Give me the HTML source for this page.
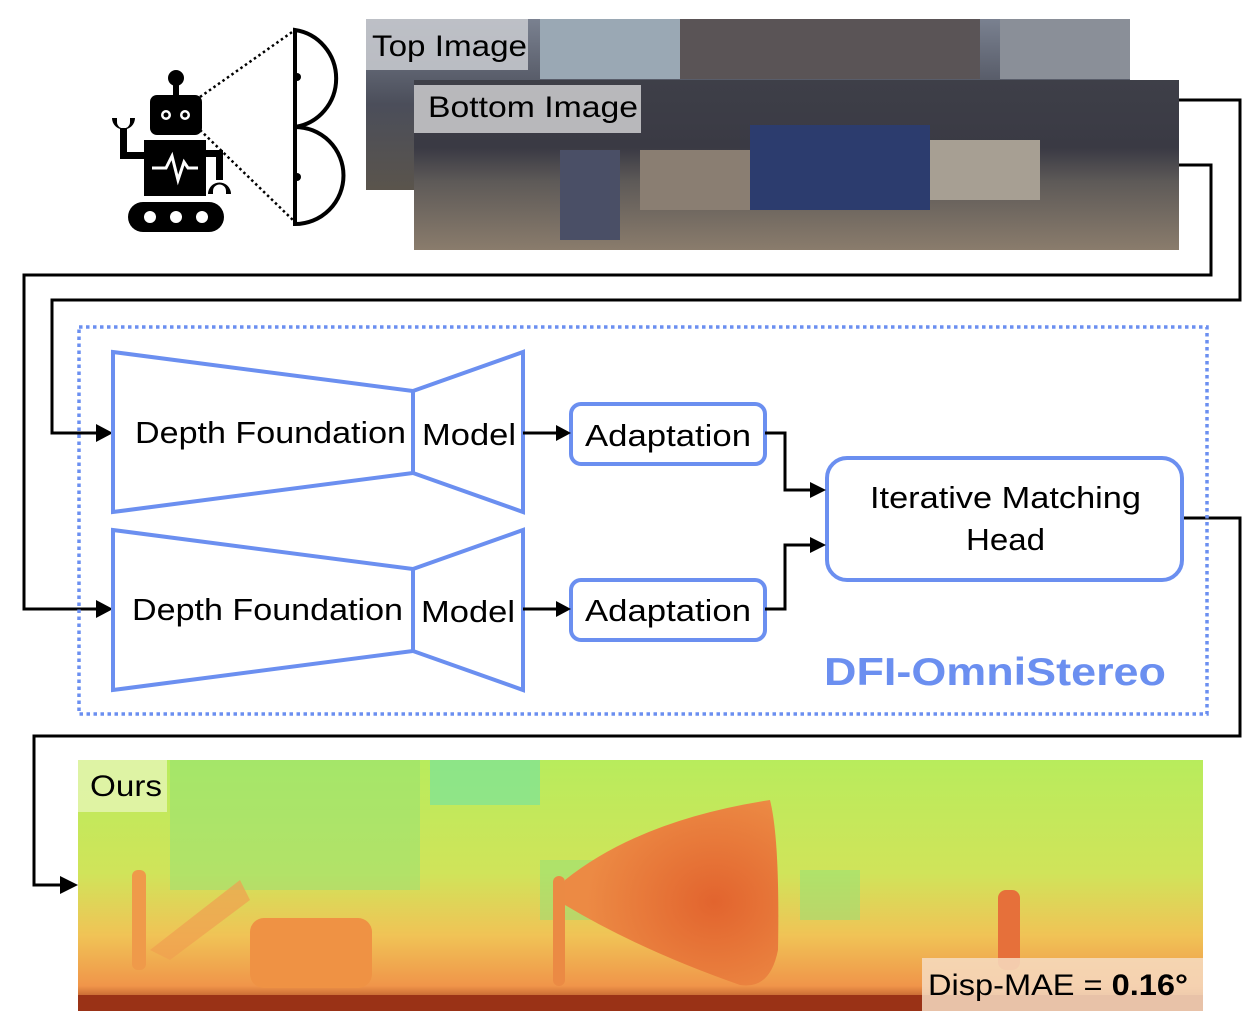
<!DOCTYPE html>
<html><head><meta charset="utf-8"><style>
body{margin:0;background:#fff;}
svg{display:block;font-family:"Liberation Sans",sans-serif;}
</style></head><body>
<svg width="1256" height="1022" viewBox="0 0 1256 1022" xmlns="http://www.w3.org/2000/svg">
<defs>
<linearGradient id="topimg" x1="0" y1="0" x2="0" y2="1"><stop offset="0" stop-color="#7a8190"/><stop offset="0.5" stop-color="#4b4e5a"/><stop offset="1" stop-color="#5a544c"/></linearGradient>
<linearGradient id="botimg" x1="0" y1="0" x2="0" y2="1"><stop offset="0" stop-color="#3e3f48"/><stop offset="0.4" stop-color="#3a3a44"/><stop offset="0.6" stop-color="#5e5a58"/><stop offset="1" stop-color="#8a7c6c"/></linearGradient>
<linearGradient id="dep" x1="0" y1="0" x2="0" y2="1"><stop offset="0" stop-color="#b8ec5c"/><stop offset="0.45" stop-color="#d0e45a"/><stop offset="0.7" stop-color="#f0c356"/><stop offset="0.9" stop-color="#f0954a"/><stop offset="1" stop-color="#8e2a12"/></linearGradient>
<radialGradient id="cone" cx="0.7" cy="0.55" r="0.6"><stop offset="0" stop-color="#e2642e"/><stop offset="1" stop-color="#ec8a44"/></radialGradient>
</defs>

<!-- robot -->
<g fill="#000">
<circle cx="176" cy="78" r="8"/><rect x="173" y="80" width="6" height="16"/>
<rect x="150" y="95" width="52" height="40" rx="7"/>
<circle cx="166" cy="115" r="5" fill="#fff"/><circle cx="185" cy="115" r="5" fill="#fff"/>
<circle cx="166" cy="115" r="2.5"/><circle cx="185" cy="115" r="2.5"/>
<rect x="144" y="140" width="62" height="56"/>
<path d="M152 168 L166 168 L172 156 L178 180 L184 162 L188 168 L198 168" stroke="#fff" stroke-width="3" fill="none"/>
<rect x="120" y="128" width="7" height="30"/><rect x="120" y="152" width="26" height="7"/>
<path d="M112 118 a11 11 0 0 0 23 0 l-5 0 l0 4 a6 6 0 0 1 -13 0 l0 -4 z"/>
<rect x="206" y="150" width="16" height="7"/><rect x="216" y="150" width="7" height="30"/>
<path d="M208 194 a11.5 11.5 0 0 1 23 0 l-5 0 l0 -3 a6 6 0 0 0 -13 0 l0 3 z"/>
<rect x="128" y="202" width="96" height="30" rx="15"/>
<circle cx="150" cy="217" r="6" fill="#fff"/><circle cx="176" cy="217" r="6" fill="#fff"/><circle cx="202" cy="217" r="6" fill="#fff"/>
</g>
<line x1="200" y1="97" x2="295" y2="30" stroke="#000" stroke-width="2.5" stroke-dasharray="2.5 3"/>
<line x1="200" y1="130" x2="295" y2="222" stroke="#000" stroke-width="2.5" stroke-dasharray="2.5 3"/>
<path d="M295 30 A48 49 0 0 1 295 127 Z" fill="none" stroke="#000" stroke-width="4"/>
<path d="M295 127 A48 48 0 0 1 295 224 Z" fill="none" stroke="#000" stroke-width="4"/>
<circle cx="297" cy="77" r="4"/><circle cx="297" cy="177" r="4"/>

<!-- images -->
<rect x="366" y="19" width="764" height="171" fill="url(#topimg)"/>
<rect x="540" y="19" width="140" height="60" fill="#9aa8b4"/>
<rect x="680" y="19" width="300" height="60" fill="#5a5456"/>
<rect x="1000" y="19" width="130" height="60" fill="#8a8f98"/>
<rect x="366" y="19" width="162" height="51" fill="#c4c7cc" opacity="0.9"/>
<text x="372" y="56" font-size="30" fill="#000" textLength="155" lengthAdjust="spacingAndGlyphs">Top Image</text>
<rect x="414" y="80" width="765" height="170" fill="url(#botimg)"/>
<rect x="560" y="150" width="60" height="90" fill="#4a4f66"/>
<rect x="640" y="150" width="110" height="60" fill="#8a7e72"/>
<rect x="750" y="125" width="180" height="85" fill="#2c3c6e"/>
<rect x="930" y="140" width="110" height="60" fill="#a79f93"/>
<rect x="414" y="85" width="227" height="48" fill="#c9c9cc" opacity="0.88"/>
<text x="428" y="117" font-size="30" fill="#000" textLength="210" lengthAdjust="spacingAndGlyphs">Bottom Image</text>

<!-- connectors -->
<g fill="none" stroke="#000" stroke-width="3">
<polyline points="1179,100 1240,100 1240,300 52,300 52,433 105,433"/>
<polyline points="1179,165 1211,165 1211,275 24,275 24,609 105,609"/>
<polyline points="1183,518 1240,518 1240,736 34,736 34,885 70,885"/>
</g>
<path d="M96,424 L113,433 L96,442 z"/><path d="M96,600 L113,609 L96,618 z"/><path d="M60,876 L78,885 L60,894 z"/>

<!-- dotted box -->
<rect x="79" y="327" width="1128" height="387" fill="none" stroke="#6b8ff0" stroke-width="3.5" stroke-dasharray="3.5 3.5"/>

<g fill="#fff" stroke="#6b8ff0" stroke-width="4" stroke-linejoin="miter">
<polygon points="113,352 413,391 413,473 113,512"/>
<polygon points="413,391 523,352 523,512 413,473"/>
<polygon points="113,530 413,569 413,651 113,690"/>
<polygon points="413,569 523,530 523,690 413,651"/>
<rect x="571" y="404" width="194" height="60" rx="10"/>
<rect x="571" y="580" width="194" height="60" rx="10"/>
<rect x="827" y="458" width="355" height="122" rx="20"/>
</g>
<g font-size="31" fill="#000" lengthAdjust="spacingAndGlyphs">
<text x="135" y="443" textLength="271" lengthAdjust="spacingAndGlyphs">Depth Foundation</text>
<text x="422" y="445" textLength="94" lengthAdjust="spacingAndGlyphs">Model</text>
<text x="132" y="620" textLength="271" lengthAdjust="spacingAndGlyphs">Depth Foundation</text>
<text x="421" y="622" textLength="94" lengthAdjust="spacingAndGlyphs">Model</text>
<text x="585" y="446" textLength="166" lengthAdjust="spacingAndGlyphs">Adaptation</text>
<text x="585" y="621" textLength="166" lengthAdjust="spacingAndGlyphs">Adaptation</text>
<text x="870" y="508" textLength="271" lengthAdjust="spacingAndGlyphs">Iterative Matching</text>
<text x="966" y="550" textLength="79" lengthAdjust="spacingAndGlyphs">Head</text>
</g>
<g fill="none" stroke="#000" stroke-width="3">
<line x1="523" y1="433" x2="562" y2="433"/>
<line x1="523" y1="609" x2="562" y2="609"/>
<polyline points="765,433 785,433 785,490 816,490"/>
<polyline points="765,609 785,609 785,545 816,545"/>
</g>
<path d="M556,425 L571,433 L556,441 z"/><path d="M556,601 L571,609 L556,617 z"/>
<path d="M810,482 L826,490 L810,498 z"/><path d="M810,537 L826,545 L810,553 z"/>
<text x="824" y="685" font-size="39" font-weight="bold" fill="#6b8ff0" textLength="342" lengthAdjust="spacingAndGlyphs">DFI-OmniStereo</text>

<!-- depth map -->
<rect x="78" y="760" width="1125" height="251" fill="url(#dep)"/>
<rect x="170" y="760" width="250" height="130" fill="#8fe07a" opacity="0.45"/>
<rect x="430" y="760" width="110" height="45" fill="#7ae39a" opacity="0.7"/>
<rect x="540" y="860" width="60" height="60" fill="#8fe07a" opacity="0.5"/>
<rect x="800" y="870" width="60" height="50" fill="#8fe07a" opacity="0.5"/>
<path d="M565,880 Q640,820 770,800 Q780,840 778,950 Q770,990 740,985 Q640,950 565,905 Z" fill="url(#cone)"/>
<path d="M150,950 L240,880 L250,900 L170,960 Z" fill="#f0a050" opacity="0.7"/>
<rect x="250" y="918" width="122" height="70" rx="14" fill="#ef9244"/>
<rect x="132" y="870" width="14" height="100" rx="6" fill="#ef9a4a"/>
<rect x="553" y="876" width="12" height="110" rx="6" fill="#eb8a44"/>
<rect x="998" y="890" width="22" height="80" rx="8" fill="#e6703a"/>
<rect x="78" y="995" width="1125" height="16" fill="#9a3216"/>
<rect x="78" y="760" width="89" height="52" fill="#e4f4b0" opacity="0.85"/>
<text x="90" y="796" font-size="30" fill="#000" textLength="72" lengthAdjust="spacingAndGlyphs">Ours</text>
<rect x="922" y="958" width="281" height="53" fill="#f6dcc2" opacity="0.85"/>
<text x="928" y="995" font-size="30" fill="#000" textLength="260" lengthAdjust="spacingAndGlyphs">Disp-MAE = <tspan font-weight="bold">0.16°</tspan></text>
</svg>
</body></html>
